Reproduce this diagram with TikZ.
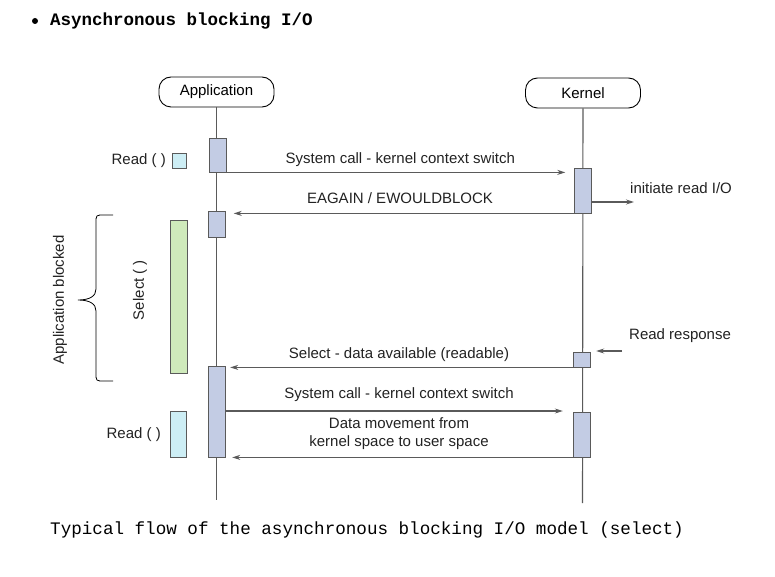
\documentclass[tikz,border=0pt]{standalone}
\usepackage{fontspec}
\setmainfont{Liberation Sans}
\newfontfamily\codefont{Liberation Mono}
\usetikzlibrary{arrows.meta}

\definecolor{actfill}{HTML}{C3CCE4}
\definecolor{selfill}{HTML}{CFEABB}
\definecolor{readfill}{HTML}{CDEEF5}
\definecolor{linegray}{HTML}{5A5A5A}
\definecolor{textgray}{HTML}{222222}

\tikzset{
  actor/.style={draw, line width=0.9pt, rounded corners=12pt, minimum width=115pt, minimum height=30pt, inner sep=0pt},
  act/.style={draw=linegray, fill=actfill, minimum width=17pt, inner sep=0pt, anchor=north},
  lifeline/.style={draw=linegray, line width=1.1pt},
  msg/.style={draw=linegray, line width=1.1pt, ->},
  lbl/.style={inner sep=0pt, text=textgray},
}

\begin{document}
\begin{tikzpicture}[x=1pt, y=-1pt, >={Stealth[length=8pt,width=5pt]},
    font=\fontsize{15}{18}\selectfont]
\useasboundingbox (0,0) rectangle (775,577);

% heading and caption
\fill (35,21) circle (3pt);
\node[lbl, text=black, anchor=west, font=\codefont\bfseries\fontsize{17.5}{20}\selectfont] (title) at (50,21) {Asynchronous blocking I/O};
\node[lbl, text=black, anchor=west, font=\codefont\fontsize{17.6}{20}\selectfont] (caption) at (50,529.5) {Typical flow of the asynchronous blocking I/O model (select)};

% actors and lifelines
\node[actor] (app) at (216.5,92) {Application};
\node[actor] (kern) at (583,93) {Kernel};
\coordinate (append) at (216.5,500);
\coordinate (kernend) at (582.5,503);
\draw[lifeline] (app) -- (append);
\draw[lifeline] (kern) -- (kernend);

% activations
\node[act, minimum height=34pt] (a1) at (217.5,138) {};
\node[act, minimum height=26pt] (a2) at (217,211) {};
\node[act, minimum height=91pt] (a3) at (216.5,366) {};
\node[act, minimum height=45pt] (k1) at (583,168) {};
\node[act, minimum height=15pt] (k2) at (581.5,352) {};
\node[act, minimum height=45pt] (k3) at (581.5,412) {};

% side bars
\node[draw=linegray, fill=readfill, minimum width=14pt, minimum height=15pt, inner sep=0pt] (rd1) at (179,160.5) {};
\node[lbl, anchor=east] at (166,161) {Read ( )};
\node[draw=linegray, fill=selfill, minimum width=17pt, minimum height=153pt, inner sep=0pt] (sel) at (178.5,296.5) {};
\node[lbl, rotate=90] at (140,290) {Select ( )};
\node[draw=linegray, fill=readfill, minimum width=16pt, minimum height=46pt, inner sep=0pt] (rd2) at (178,434) {};
\node[lbl, anchor=east] at (161,435) {Read ( )};

% blocked brace
\draw[line width=0.8pt] (113,215) -- (104,215) .. controls (96,215) .. (96,223) -- (96,289)
  .. controls (96,296) and (90,300) .. (78,300) .. controls (90,300) and (96,304) .. (96,311)
  -- (96,373) .. controls (96,381) .. (104,381) -- (113,381);
\node[lbl, rotate=90] at (60,300) {Application blocked};

% messages
\draw[msg, shorten >=9pt] (a1.south east) -- (k1.west |- a1.south)
  node[midway, above=5pt, lbl] {System call - kernel context switch};
\draw[msg, shorten >=8pt] (k1.south west) -- (a2.east |- k1.south)
  node[midway, above=9pt, lbl] {EAGAIN / EWOULDBLOCK};
\coordinate (ioend) at (634,202);
\draw[msg] (k1.east |- ioend) -- (ioend);
\node[lbl, anchor=west] at (630,188) {initiate read I/O};
\coordinate (rrstart) at (622,351);
\draw[msg, shorten >=6pt] (rrstart) -- (k2.east |- rrstart);
\node[lbl, anchor=west] at (629,336) {Read response};
\draw[msg, shorten >=5pt] (k2.south west) -- (a3.east |- k2.south)
  node[midway, above=5pt, lbl] {Select - data available (readable)};
\coordinate (sc2) at (0,411);
\draw[msg, shorten >=10pt] (a3.east |- sc2) -- (k3.west |- sc2)
  node[midway, above=9pt, lbl] {System call - kernel context switch};
\draw[msg, shorten >=7pt] (k3.south west) -- (a3.south east)
  node[midway, above=7pt, lbl, align=center] {Data movement from\\kernel space to user space};
\end{tikzpicture}
\end{document}
